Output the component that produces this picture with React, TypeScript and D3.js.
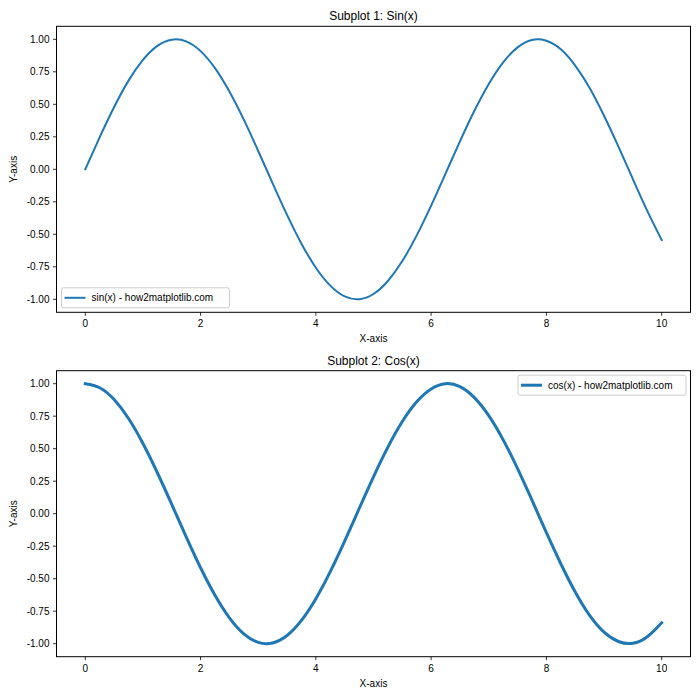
import React from "react";
import * as d3 from "d3";

const xValues = [0,0.25,0.5,0.75,1,1.25,1.5,1.75,2,2.25,2.5,2.75,3,3.25,3.5,3.75,4,4.25,4.5,4.75,5,5.25,5.5,5.75,6,6.25,6.5,6.75,7,7.25,7.5,7.75,8,8.25,8.5,8.75,9,9.25,9.5,9.75,10];
const sinValues = [0,0.247,0.479,0.682,0.841,0.949,0.997,0.984,0.909,0.778,0.598,0.382,0.141,-0.108,-0.351,-0.572,-0.757,-0.895,-0.978,-0.999,-0.959,-0.859,-0.706,-0.508,-0.279,-0.033,0.215,0.450,0.657,0.823,0.938,0.995,0.989,0.923,0.798,0.625,0.412,0.174,-0.075,-0.320,-0.544];
const cosValues = [1,0.969,0.878,0.732,0.540,0.315,0.071,-0.178,-0.416,-0.628,-0.801,-0.924,-0.990,-0.994,-0.937,-0.821,-0.654,-0.446,-0.211,0.038,0.284,0.512,0.709,0.861,0.960,1.000,0.977,0.893,0.754,0.568,0.347,0.104,-0.146,-0.385,-0.602,-0.782,-0.911,-0.983,-0.997,-0.947,-0.839];
const xTicks = [0,2,4,6,8,10];
const yTicks = [1,0.75,0.5,0.25,0,-0.25,-0.5,-0.75,-1];
const titles = ["Subplot 1: Sin(x)", "Subplot 2: Cos(x)"];
const legendLabels = ["sin(x) - how2matplotlib.com", "cos(x) - how2matplotlib.com"];

const FONT = "'Liberation Sans', Arial, sans-serif";
const COLOR = "#1f77b4";

function Panel({ top, title, ys, label, lw, legendRight }: any) {
  const left = 56.5, right = 690.5, height = 286;
  const x = d3.scaleLinear().domain([-0.5, 10.5]).range([left, right]);
  const y = d3.scaleLinear().domain([-1.1, 1.1]).range([top + height, top]);
  const pts = xValues.map((v, i) => [v, ys[i]] as [number, number]);
  const line = d3.line<[number, number]>().x(d => x(d[0])).y(d => y(d[1])).curve(d3.curveNatural);
  const legW = 168, legH = 20;
  const legX = legendRight ? right - 4.5 - legW : left + 5;
  const legY = legendRight ? top + 4.5 : top + height - 4.5 - legH;
  return (
    <g>
      <text x={(left + right) / 2} y={top - 6} textAnchor="middle" fontSize={12} fontFamily={FONT} fill="#000">{title}</text>
      <path d={line(pts) || ""} fill="none" stroke={COLOR} strokeWidth={lw} strokeLinejoin="round" strokeLinecap="square" />
      <rect x={left} y={top} width={right - left} height={height} fill="none" stroke="#000" strokeWidth={1} />
      {xTicks.map(t => (
        <g key={"x" + t}>
          <line x1={x(t)} x2={x(t)} y1={top + height} y2={top + height + 3.5} stroke="#000" strokeWidth={0.8} />
          <text x={x(t)} y={top + height + 15} textAnchor="middle" fontSize={10} fontFamily={FONT} fill="#000">{t}</text>
        </g>
      ))}
      {yTicks.map(t => (
        <g key={"y" + t}>
          <line x1={left - 3.5} x2={left} y1={y(t)} y2={y(t)} stroke="#000" strokeWidth={0.8} />
          <text x={left - 7} y={y(t) + 3.5} textAnchor="end" fontSize={10} fontFamily={FONT} fill="#000">{t.toFixed(2)}</text>
        </g>
      ))}
      <text x={(left + right) / 2} y={top + height + 30} textAnchor="middle" fontSize={10} fontFamily={FONT} fill="#000">X-axis</text>
      <text transform={`translate(17,${top + height / 2}) rotate(-90)`} textAnchor="middle" fontSize={10} fontFamily={FONT} fill="#000">Y-axis</text>
      <rect x={legX} y={legY} width={legW} height={legH} rx={2} fill="#fff" fillOpacity={0.8} stroke="#ccc" strokeWidth={1} />
      <line x1={legX + 3} x2={legX + 24} y1={legY + legH / 2} y2={legY + legH / 2} stroke={COLOR} strokeWidth={lw} />
      <text x={legX + 30} y={legY + legH / 2 + 3.5} fontSize={10} fontFamily={FONT} fill="#000">{label}</text>
    </g>
  );
}

export default function App() {
  return (
    <svg width={700} height={700} style={{ position: "absolute", left: 0, top: 0, background: "#fff" }}>
      <rect width={700} height={700} fill="#fff" />
      <Panel top={26.3} title={titles[0]} ys={sinValues} label={legendLabels[0]} lw={2} legendRight={false} />
      <Panel top={370.7} title={titles[1]} ys={cosValues} label={legendLabels[1]} lw={3} legendRight={true} />
    </svg>
  );
}
